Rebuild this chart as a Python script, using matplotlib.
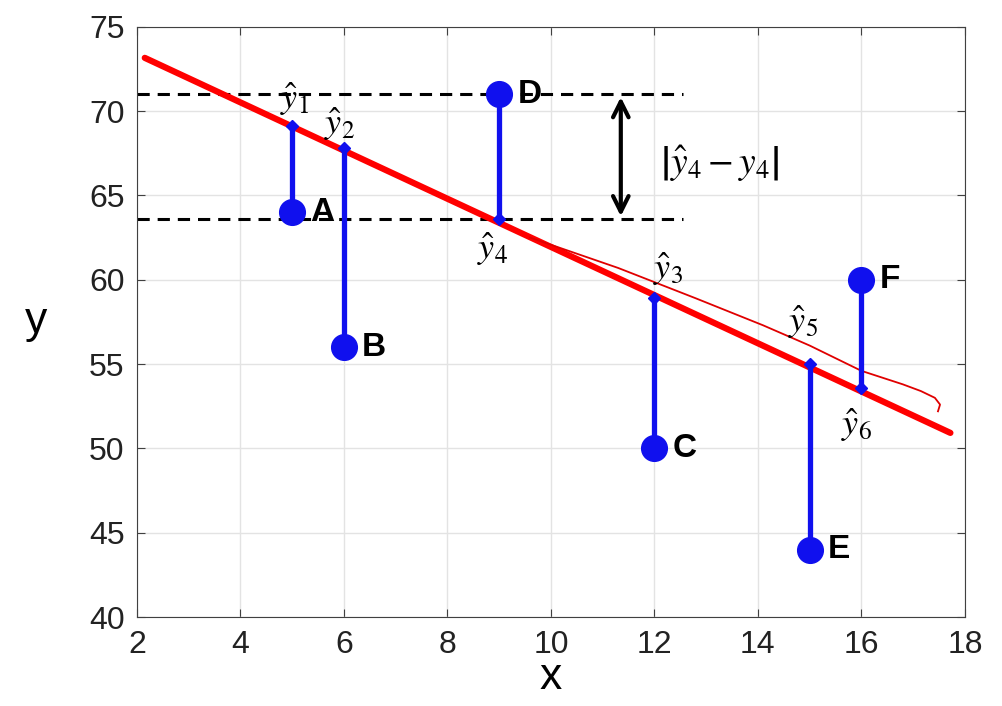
import numpy as np
import matplotlib.pyplot as plt

# observed points
names = ['A', 'B', 'C', 'D', 'E', 'F']
x_obs = [5, 6, 12, 9, 15, 16]
y_obs = [64, 56, 50, 71, 44, 60]

# predicted values
y_hat = [69.1, 67.8, 58.9, 63.6, 55.0, 53.6]
hat_names = ['1', '2', '3', '4', '5', '6']

# hand-drawn fit line end points
line_x = [2.15, 17.72]
line_y = [73.16, 50.92]

# thin red pen stroke
pen_x = [9.6, 11.3, 12.8, 14.1, 15.0, 16.0, 16.8, 17.15, 17.42, 17.52, 17.48]
pen_y = [62.5, 60.7, 58.9, 57.3, 56.1, 54.6, 53.8, 53.4, 53.0, 52.6, 52.2]

# residual marker for point D
dash_levels = [71.0, 63.6]
dash_x = [2.0, 12.55]
arrow_x = 11.35

plt.rcParams['font.family'] = ['Liberation Sans', 'DejaVu Sans']
plt.rcParams['mathtext.fontset'] = 'stix'

fig = plt.figure(figsize=(10.03, 7.06), dpi=100)
ax = fig.add_axes([0.1366, 0.126, 0.8254, 0.836])

ax.set_xlim(2, 18)
ax.set_ylim(40, 75)
ax.set_xticks(np.arange(2, 19, 2))
ax.set_yticks(np.arange(40, 76, 5))
ax.grid(True, color='#e3e3e3', linewidth=1)
ax.set_axisbelow(True)
ax.tick_params(direction='in', length=6, width=0.8, color='#404040',
               labelsize=23, top=True, right=True, pad=9, labelcolor='#222222')
for s in ax.spines.values():
    s.set_color('#404040')
    s.set_linewidth(0.8)

# dashed lines
for lv in dash_levels:
    ax.plot(dash_x, [lv, lv], color='black', linestyle=(0, (4, 2.6)), linewidth=2.2, zorder=2)

# fit line
ax.plot(line_x, line_y, color='#ff0000', linewidth=4.5, solid_capstyle='round', zorder=3)
ax.plot(pen_x, pen_y, color='#e00000', linewidth=1.3, zorder=3)

# stems
for xi, yi, yh in zip(x_obs, y_obs, y_hat):
    ax.plot([xi, xi], [yh, yi], color='#1010ee', linewidth=3.8, marker='D',
            markersize=6.5, zorder=4)
ax.plot(x_obs, y_obs, 'o', color='#1010ee', markersize=18.5, zorder=5)

# point names
for nm, xi, yi in zip(names, x_obs, y_obs):
    ax.annotate(nm, (xi, yi), xytext=(13, 0), textcoords='offset points',
                fontsize=24, fontweight='bold', va='center', ha='left', zorder=6)

# y-hat labels
hat_pos = [(5.05, 70.7), (5.92, 69.2), (12.26, 60.6), (8.88, 61.8), (14.87, 57.5), (15.9, 51.4)]
for hn, (hx, hy) in zip(hat_names, hat_pos):
    ax.text(hx, hy, r'$\hat{y}_{' + hn + '}$', fontsize=26, ha='center', va='center', zorder=6)

# double arrow
ax.annotate('', xy=(arrow_x, dash_levels[1]), xytext=(arrow_x, dash_levels[0]),
            arrowprops=dict(arrowstyle='<->', color='black', lw=3, mutation_scale=28))
ax.text(12.1, 66.9, r'$\left|\hat{y}_4 - y_4\right|$', fontsize=27, ha='left', va='center')

ax.set_xlabel('x', fontsize=32, labelpad=-2)
ax.set_ylabel('y', fontsize=32, rotation=0, labelpad=38, va='center')

fig.savefig('out.png', dpi=100)
